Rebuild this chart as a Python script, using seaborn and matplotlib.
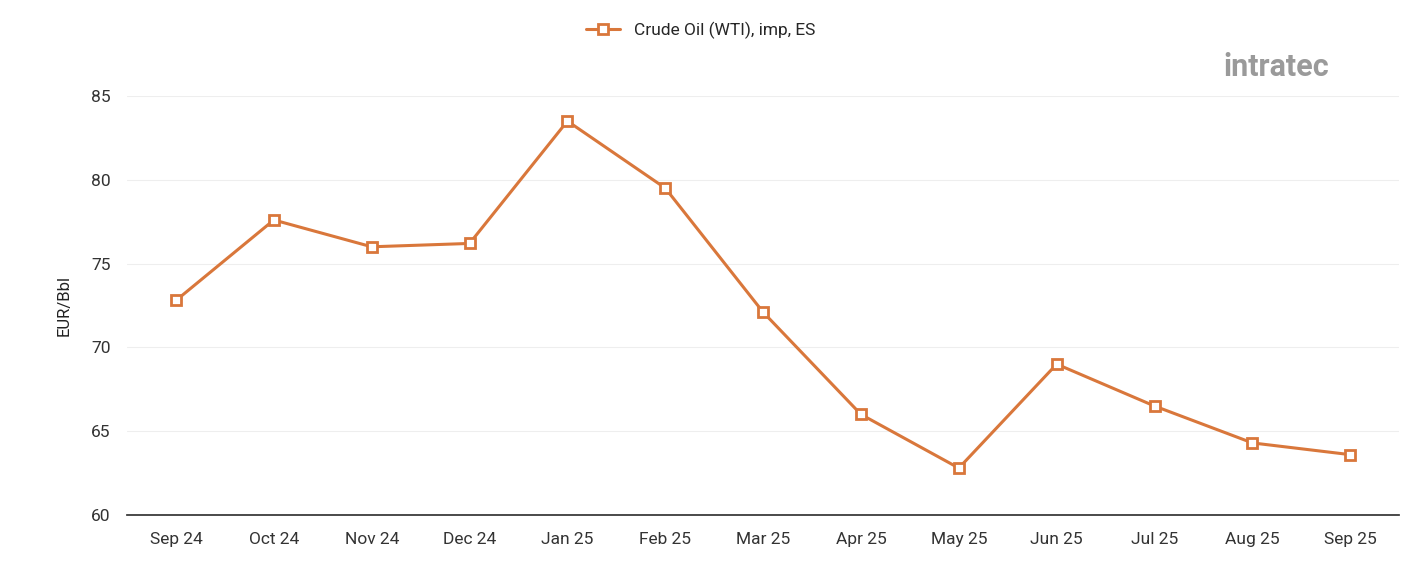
import matplotlib
matplotlib.use("Agg")
import matplotlib.pyplot as plt
import seaborn as sns
import pandas as pd

months = ["Sep 24","Oct 24","Nov 24","Dec 24","Jan 25","Feb 25","Mar 25","Apr 25","May 25","Jun 25","Jul 25","Aug 25","Sep 25"]
values = [72.8,77.6,76.0,76.2,83.5,79.5,72.1,66.0,62.8,69.0,66.5,64.3,63.6]
yticks = [60,65,70,75,80,85]
series_name = "Crude Oil (WTI), imp, ES"

sns.set_theme(style="white")
plt.rcParams['font.family'] = ['Roboto', 'DejaVu Sans']
df = pd.DataFrame({"month": months, "value": values, "s": series_name})

fig = plt.figure(figsize=(14.01, 5.61), dpi=100)
ax = fig.add_axes([0.0907, 0.082, 0.908, 0.747])
color = "#D9773B"
sns.lineplot(data=df, x="month", y="value", hue="s", palette=[color], marker="s",
             markersize=7, markerfacecolor="white", markeredgecolor=color, markeredgewidth=2,
             linewidth=2.2, ax=ax, sort=False)
ax.set_ylim(60, 85)
ax.set_yticks(yticks)
ax.set_xlim(-0.5, len(months) - 0.5)
ax.grid(axis="y", color="#eeeeee", linewidth=0.8)
for s in ["top", "right", "left"]:
    ax.spines[s].set_visible(False)
ax.spines["bottom"].set_color("#333333")
ax.set_xlabel("")
ax.set_ylabel("EUR/Bbl", fontsize=12, color="#222222", labelpad=14)
ax.tick_params(axis="both", labelsize=12.5, colors="#333333", length=0, pad=12)
for l in ax.lines:
    l.set_clip_on(False)
ax.legend(frameon=False, fontsize=12.5, handlelength=2, loc="upper center")
leg = ax.get_legend()
leg.set_bbox_to_anchor((0.5, 0.99), transform=fig.transFigure)
fig.text(0.873, 0.865, "intratec", fontsize=22, color="#9a9a9a", fontweight="bold", ha="left")
fig.savefig("out.png", dpi=100)
